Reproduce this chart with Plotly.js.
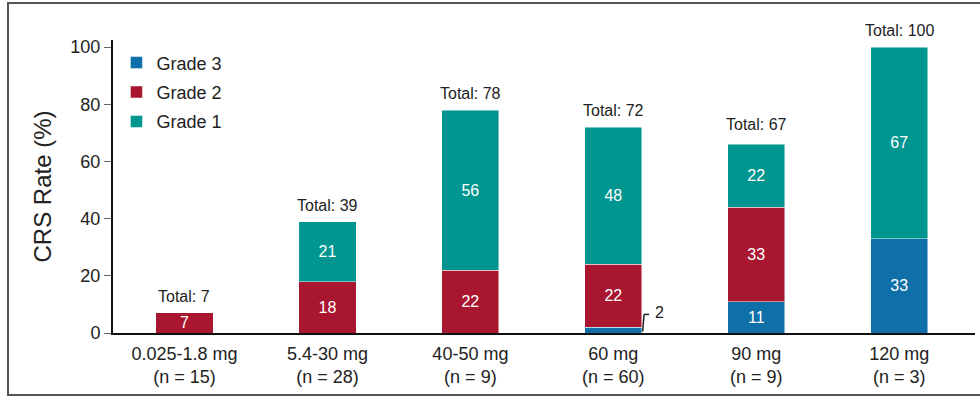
<!DOCTYPE html>
<html>
<head>
<meta charset="utf-8">
<script src="https://cdn.plot.ly/plotly-3.0.1.min.js"></script>
<style>
  html, body { margin: 0; padding: 0; background: #fff; }
  #wrap { position: relative; width: 980px; height: 400px; overflow: hidden; }
  #chart { position: absolute; left: 0; top: 0; width: 980px; height: 400px; }
  #frame { position: absolute; left: 7px; top: 2px; width: 990px; height: 394px; border: 2px solid #555; box-sizing: border-box; pointer-events: none; }
</style>
</head>
<body>
<div id="wrap">
  <div id="chart"></div>
  <div id="frame"></div>
</div>
<script>
const categories = ["0.025-1.8 mg<br>(n = 15)", "5.4-30 mg<br>(n = 28)", "40-50 mg<br>(n = 9)", "60 mg<br>(n = 60)", "90 mg<br>(n = 9)", "120 mg<br>(n = 3)"];
const grade3 = [0, 0, 0, 2, 11, 33];
const grade2 = [7, 18, 22, 22, 33, 0];
const grade1 = [0, 21, 56, 48, 22, 67];
const totals = [7, 39, 78, 72, 67, 100];
const yTicks = [0, 20, 40, 60, 80, 100];

const FONT = "Liberation Sans, Arial, sans-serif";
const colors = { g3: "#0f6fa8", g2: "#a8162f", g1: "#00958f" };
const barWidth = 0.4;
const xIdx = categories.map((_, i) => i);
const lbl = arr => arr.map(v => (v >= 5 ? String(v) : ""));

function barTrace(name, vals, color) {
  return {
    type: "bar", name: name, legendgroup: name, x: xIdx, y: vals, width: barWidth,
    marker: { color: color, line: { color: "rgba(255,255,255,0.6)", width: 0.8 } },
    text: lbl(vals), textposition: "inside", insidetextanchor: "middle",
    textangle: 0, constraintext: "none",
    textfont: { color: "#ffffff", size: 16, family: FONT },
    hoverinfo: "skip"
  };
}

const traces = [
  barTrace("Grade 3", grade3, colors.g3),
  barTrace("Grade 2", grade2, colors.g2),
  barTrace("Grade 1", grade1, colors.g1)
];

const annotations = totals.map((t, i) => ({
  x: i, y: t, xref: "x", yref: "y", text: "Total: " + t, showarrow: false,
  yanchor: "bottom", yshift: 6,
  font: { size: 16, color: "#222", family: FONT }
}));

// small-value callout for the 60 mg Grade 3 segment
const smallIdx = grade3.findIndex(v => v > 0 && v < 5);
const edgeX = smallIdx + barWidth / 2;
annotations.push({
  x: edgeX, y: grade3[smallIdx], xref: "x", yref: "y", text: String(grade3[smallIdx]),
  showarrow: false, xanchor: "left", yanchor: "middle", xshift: 11, yshift: 15,
  font: { size: 16, color: "#222", family: FONT }
});

const shapes = [
  { type: "line", xref: "x", yref: "y", x0: edgeX + 0.005, x1: edgeX + 0.015, y0: grade3[smallIdx] - 1.5, y1: grade3[smallIdx] + 4.5, line: { color: "#222", width: 1.5 } },
  { type: "line", xref: "x", yref: "y", x0: edgeX + 0.015, x1: edgeX + 0.05, y0: grade3[smallIdx] + 4.5, y1: grade3[smallIdx] + 4.5, line: { color: "#222", width: 1.5 } }
];

const layout = {
  width: 980, height: 400,
  margin: { l: 113, r: 5, t: 40, b: 67 },
  paper_bgcolor: "#ffffff", plot_bgcolor: "#ffffff",
  barmode: "stack", bargap: 0.6,
  font: { family: FONT, color: "#222" },
  showlegend: true,
  legend: {
    x: 0.004, y: 0.985, xanchor: "left", yanchor: "top", traceorder: "grouped",
    tracegroupgap: 3,
    font: { size: 18, color: "#222", family: FONT }, bgcolor: "rgba(0,0,0,0)", itemwidth: 30
  },
  xaxis: {
    range: [-0.5, 5.53], tickmode: "array", tickvals: xIdx, ticktext: categories,
    showline: true, linecolor: "#111", linewidth: 2, ticks: "", showgrid: false,
    zeroline: false, tickfont: { size: 18, color: "#222", family: FONT }, fixedrange: true,
    ticklabelstandoff: 3
  },
  yaxis: {
    range: [0, 102.5], tickmode: "array", tickvals: yTicks,
    showline: true, linecolor: "#111", linewidth: 2, ticks: "outside", ticklen: 7,
    tickcolor: "#666", tickwidth: 1, showgrid: false, zeroline: false,
    tickfont: { size: 18, color: "#222", family: FONT },
    title: { text: "CRS Rate (%)", font: { size: 24, color: "#222", family: FONT }, standoff: 12 },
    fixedrange: true
  },
  annotations: annotations,
  shapes: shapes
};

Plotly.newPlot("chart", traces, layout, { displayModeBar: false, staticPlot: true });
</script>
</body>
</html>
